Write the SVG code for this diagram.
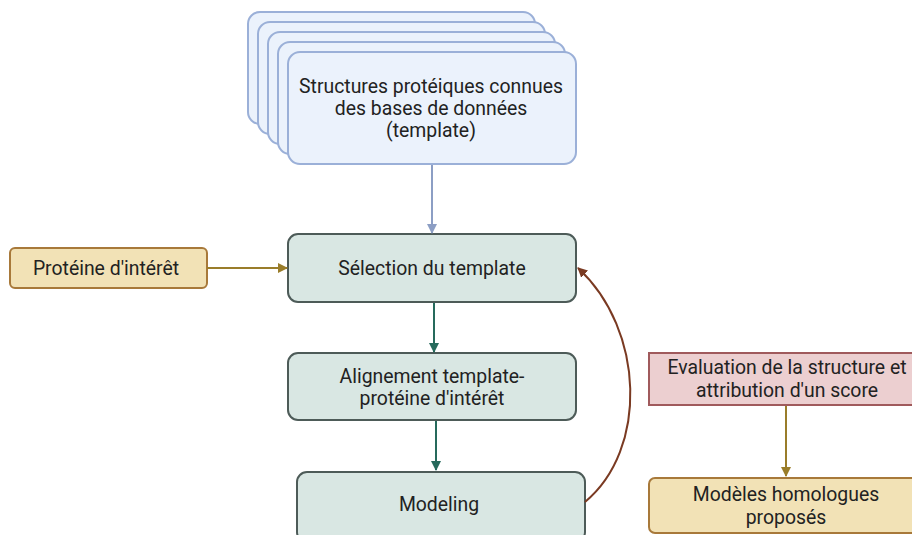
<svg xmlns="http://www.w3.org/2000/svg" width="912" height="535" viewBox="0 0 912 535">
<style>
text{font-family:Roboto,"Liberation Sans",sans-serif;font-size:19.4px;fill:#222;text-anchor:middle}
.stack{fill:#ebf2fc;stroke:#9bb0d8;stroke-width:2}
.teal{fill:#d9e7e3;stroke:#4d5b58;stroke-width:2}
.gold{fill:#f2e2b6;stroke:#a8793a;stroke-width:2}
.pink{fill:#eccfd0;stroke:#a05a5c;stroke-width:2}
</style>
<defs>
<marker id="aBlue" markerWidth="10" markerHeight="10" refX="9" refY="5" orient="auto" markerUnits="userSpaceOnUse"><path d="M0,0 L10,5 L0,10 Z" fill="#8c9ec4"/></marker>
<marker id="aTeal" markerWidth="10" markerHeight="10" refX="9" refY="5" orient="auto" markerUnits="userSpaceOnUse"><path d="M0,0 L10,5 L0,10 Z" fill="#266a5c"/></marker>
<marker id="aGold" markerWidth="10" markerHeight="10" refX="9" refY="5" orient="auto" markerUnits="userSpaceOnUse"><path d="M0,0 L10,5 L0,10 Z" fill="#9a7d2a"/></marker>
<marker id="aBrown" markerWidth="10" markerHeight="10" refX="9" refY="5" orient="auto" markerUnits="userSpaceOnUse"><path d="M0,0 L10,5 L0,10 Z" fill="#7a3a22"/></marker>
</defs>
<g id="templates">
<rect class="stack" x="248" y="12" width="287" height="112" rx="12"/>
<rect class="stack" x="258" y="22" width="287" height="112" rx="12"/>
<rect class="stack" x="268" y="32" width="287" height="112" rx="12"/>
<rect class="stack" x="278" y="42" width="287" height="112" rx="12"/>
<rect class="stack" x="288" y="52" width="288" height="112" rx="12"/>
<text x="431" y="93">Structures protéiques connues</text>
<text x="431" y="115">des bases de données</text>
<text x="431" y="137">(template)</text>
</g>
<g id="proteine">
<rect class="gold" x="10" y="248" width="197" height="40" rx="5"/>
<text x="106" y="275">Protéine d'intérêt</text>
</g>
<g id="selection">
<rect class="teal" x="288" y="234" width="288" height="68" rx="10"/>
<text x="432" y="275">Sélection du template</text>
</g>
<g id="alignement">
<rect class="teal" x="288" y="353" width="288" height="67" rx="10"/>
<text x="432" y="383">Alignement template-</text>
<text x="432" y="405">protéine d'intérêt</text>
</g>
<g id="modeling">
<rect class="teal" x="297" y="472" width="288" height="70" rx="10"/>
<text x="439" y="511">Modeling</text>
</g>
<g id="evaluation">
<rect class="pink" x="649" y="353" width="270" height="52"/>
<text x="787" y="374">Evaluation de la structure et</text>
<text x="787" y="397">attribution d'un score</text>
</g>
<g id="modeles">
<rect class="gold" x="649" y="478" width="270" height="55" rx="6"/>
<text x="786" y="501">Modèles homologues</text>
<text x="786" y="524">proposés</text>
</g>
<g id="connectors" fill="none" stroke-width="2">
<path d="M432,165 V233" stroke="#8c9ec4" marker-end="url(#aBlue)"/>
<path d="M207,268 H287" stroke="#9a7d2a" marker-end="url(#aGold)"/>
<path d="M434,303 V352" stroke="#266a5c" marker-end="url(#aTeal)"/>
<path d="M436,421 V470" stroke="#266a5c" marker-end="url(#aTeal)"/>
<path d="M786,406 V476" stroke="#9a7d2a" marker-end="url(#aGold)"/>
<path d="M585,502 C648,450 645,330 578,268" stroke="#7a3a22" marker-end="url(#aBrown)"/>
</g>
</svg>
